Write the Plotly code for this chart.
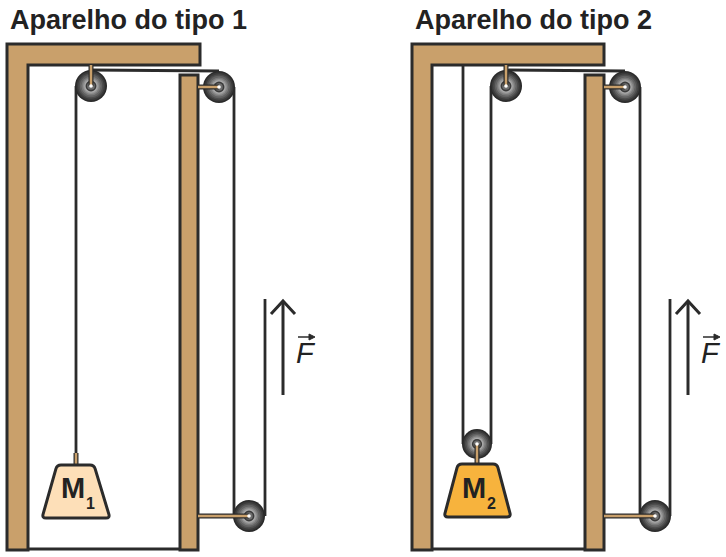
import plotly.graph_objects as go

# --------------------------
# DIAGRAM DATA (pixel units, y grows downward)
# --------------------------
titles = ["Aparelho do tipo 1", "Aparelho do tipo 2"]
title_x = [8, 413]

# L-shaped frame: outer left, inner left, bar right, top, bar bottom, floor
frame_left = [7, 412]
frame_inner = [28, 432]
frame_right = [200, 604]
frame_top = 44
frame_bar = 65
frame_floor = 550

# right posts
post_x0 = [180, 585]
post_x1 = [198, 604]
post_top = 75

# pulleys: fixed top, fixed right, bottom, then movable one of type 2
pulley_x = [91, 219, 249, 506, 625, 655, 477]
pulley_y = [86, 87, 516, 86, 87, 516, 444]
pulley_r = [16, 16, 16, 16, 16, 16, 15]

# ropes as (x0, y0, x1, y1)
ropes = [
    (76, 453, 76, 86), (91, 70, 219, 71), (234, 87, 234, 516), (265, 516, 265, 299),
    (463, 65, 463, 444), (491, 444, 491, 86), (506, 70, 625, 71),
    (640, 87, 640, 516), (670, 516, 670, 299),
]
# rods holding the pulleys
rods = [
    (91, 65, 91, 86), (198, 87, 219, 87), (198, 516, 249, 516),
    (506, 65, 506, 86), (604, 87, 625, 87), (604, 516, 655, 516),
    (477, 444, 477, 464), (76, 453, 76, 465),
]

# weights: top-left, top-right, bottom-right, bottom-left
weights = [
    [(57, 465), (94, 465), (110, 518), (42, 518)],
    [(458, 464), (497, 464), (511, 517), (444, 517)],
]
weight_fill = ["#FDDFB8", "#F7B33D"]
weight_label_x = [73, 474]
weight_sub = ["1", "2"]

# force arrows
arrow_x = [283, 688]
arrow_top = 301
arrow_bottom = 395

TAN = "#C9A06B"
DARK = "#2B2B2B"

shapes = []


def add_line(x0, y0, x1, y1, color, width):
    shapes.append(dict(type="line", xref="x", yref="y", x0=x0, y0=y0, x1=x1, y1=y1,
                       line=dict(color=color, width=width)))


def add_circle(cx, cy, r, fill):
    shapes.append(dict(type="circle", xref="x", yref="y", x0=cx - r, x1=cx + r,
                       y0=cy - r, y1=cy + r, fillcolor=fill, line=dict(width=0)))


def rounded_path(pts, r):
    n = len(pts)
    path = ""
    for i in range(n):
        px, py = pts[i - 1]
        cx, cy = pts[i]
        nx, ny = pts[(i + 1) % n]
        d1 = ((cx - px) ** 2 + (cy - py) ** 2) ** 0.5
        d2 = ((nx - cx) ** 2 + (ny - cy) ** 2) ** 0.5
        ax, ay = cx + (px - cx) * r / d1, cy + (py - cy) * r / d1
        bx, by = cx + (nx - cx) * r / d2, cy + (ny - cy) * r / d2
        path += ("M" if i == 0 else "L") + f"{ax},{ay} Q{cx},{cy} {bx},{by} "
    return path + "Z"


# --------------------------
# FRAMES
# --------------------------
for i in range(2):
    l, il, rr = frame_left[i], frame_inner[i], frame_right[i]
    shapes.append(dict(
        type="path", xref="x", yref="y",
        path=f"M{l},{frame_top} L{rr},{frame_top} L{rr},{frame_bar} L{il},{frame_bar} "
             f"L{il},{frame_floor} L{l},{frame_floor} Z",
        fillcolor=TAN, line=dict(color=DARK, width=3)))
    shapes.append(dict(type="rect", xref="x", yref="y", x0=post_x0[i], x1=post_x1[i],
                       y0=post_top, y1=frame_floor, fillcolor=TAN,
                       line=dict(color=DARK, width=3)))
    add_line(il, frame_floor - 1, post_x0[i], frame_floor - 1, DARK, 3)

# --------------------------
# ROPES
# --------------------------
for x0, y0, x1, y1 in ropes:
    add_line(x0, y0, x1, y1, DARK, 2.8)

# --------------------------
# PULLEYS (concentric rings fake the radial shading)
# --------------------------
rings = [(1.0, "#2A2A2A"), (0.9, "#3A3A3A"), (0.8, "#4D4D4D"), (0.7, "#626262"),
         (0.6, "#7A7A7A"), (0.5, "#939393"), (0.42, "#A9A9A9"), (0.34, "#3A3A3A"),
         (0.24, "#6E6E6E")]
for cx, cy, r in zip(pulley_x, pulley_y, pulley_r):
    for f, c in rings:
        add_circle(cx, cy, r * f, c)

# --------------------------
# RODS
# --------------------------
for x0, y0, x1, y1 in rods:
    add_line(x0, y0, x1, y1, DARK, 5)
for x0, y0, x1, y1 in rods:
    add_line(x0, y0, x1, y1, TAN, 2.5)
for cx, cy in zip(pulley_x, pulley_y):
    add_circle(cx, cy, 1.8, "#FFFFFF")

# --------------------------
# WEIGHTS
# --------------------------
for pts, fill in zip(weights, weight_fill):
    shapes.append(dict(type="path", xref="x", yref="y", path=rounded_path(pts, 4),
                       fillcolor=fill, line=dict(color=DARK, width=3)))

# --------------------------
# FORCE ARROWS
# --------------------------
for ax in arrow_x:
    add_line(ax, arrow_top + 1, ax, arrow_bottom, DARK, 3)
    shapes.append(dict(type="path", xref="x", yref="y",
                       path=f"M{ax - 12},{arrow_top + 13} L{ax},{arrow_top} L{ax + 12},{arrow_top + 13}",
                       line=dict(color=DARK, width=3)))
    # little vector arrow over F
    add_line(ax + 15, 337, ax + 28, 337, DARK, 1.5)
    shapes.append(dict(type="path", xref="x", yref="y",
                       path=f"M{ax + 26},{334} L{ax + 32},{337} L{ax + 26},{340} Z",
                       fillcolor=DARK, line=dict(color=DARK, width=1)))

fig = go.Figure()

annotations = []
for t, x in zip(titles, title_x):
    annotations.append(dict(text=f"<b>{t}</b>", x=x, y=20, xref="x", yref="y",
                            xanchor="left", yanchor="middle", showarrow=False,
                            font=dict(family="Liberation Sans", size=27, color="#222222")))
for x, s in zip(weight_label_x, weight_sub):
    annotations.append(dict(text="<b>M</b>", x=x, y=488, xref="x", yref="y",
                            showarrow=False,
                            font=dict(family="Liberation Sans", size=29, color="#222222")))
    annotations.append(dict(text=f"<b>{s}</b>", x=x + 17, y=503, xref="x", yref="y",
                            showarrow=False,
                            font=dict(family="Liberation Sans", size=16, color="#222222")))
for ax in arrow_x:
    annotations.append(dict(text="<i>F</i>", x=ax + 23, y=353, xref="x", yref="y",
                            showarrow=False,
                            font=dict(family="Liberation Sans", size=29, color="#222222")))

fig.update_layout(
    width=726, height=557,
    margin=dict(l=0, r=0, t=0, b=0),
    paper_bgcolor="white", plot_bgcolor="white",
    shapes=shapes, annotations=annotations,
    showlegend=False,
)
fig.update_xaxes(range=[0, 726], visible=False, fixedrange=True)
fig.update_yaxes(range=[557, 0], visible=False, fixedrange=True)

# page body has a default 8px margin; drop it so the drawing sits at 0,0
fig.write_html("out.html", config={"displayModeBar": False},
               post_script="document.body.style.margin='0';")
